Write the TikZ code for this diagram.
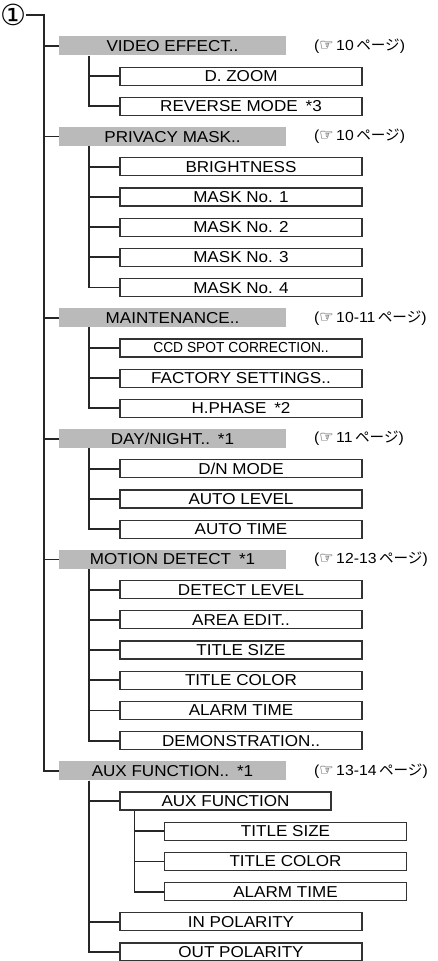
\documentclass[tikz,border=0pt]{standalone}
\usepackage{fontspec}
\setmainfont{Liberation Sans}[FakeStretch=1.08]
\newfontfamily\symfont{DejaVu Sans}
\newfontfamily\jpfont{Noto Sans CJK JP}
\newcommand{\menufont}{\fontsize{15.8}{16}\selectfont}
\newcommand{\seepage}[1]{({\symfont\fontsize{16}{16}\selectfont ☞}\,#1\kern2.5pt{\jpfont ページ})}

\begin{document}
\begin{tikzpicture}[x=1pt, y=-30.2pt,
    head/.style={fill=black!27, minimum width=227pt, minimum height=19pt, inner sep=0pt, font=\menufont},
    item/.style={draw=black!80, line width=1.1pt, fill=white, minimum width=242pt, minimum height=18pt, inner sep=0pt, font=\menufont},
    link/.style={line width=1.8pt, black!85},
    pg/.style={anchor=west, inner sep=0pt, font=\fontsize{14.6}{15}\selectfont}]
    \useasboundingbox (0,-1.523) rectangle (437,30.298);

    % Start of the tree
    \node[font=\symfont\fontsize{29}{29}\selectfont, inner sep=0pt] (start) at (13,-1.026) {①};
    \coordinate (trunk) at (44,-1.026);

    % Menu headers (gray)
    \node[head] (video) at (172.5,0) {VIDEO EFFECT..};
    \node[head] (privacy) at (172.5,3) {PRIVACY MASK..};
    \node[head] (maint) at (172.5,9) {MAINTENANCE..};
    \node[head] (daynight) at (172.5,13) {DAY/NIGHT..\enspace*1};
    \node[head] (motion) at (172.5,17) {MOTION DETECT\enspace*1};
    \node[head] (aux) at (172.5,24) {AUX FUNCTION..\enspace*1};

    % Page references
    \node[pg] (pvideo) at (314,0) {\seepage{10}};
    \node[pg] (pprivacy) at (314,3) {\seepage{10}};
    \node[pg] (pmaint) at (314,9) {\seepage{10-11}};
    \node[pg] (pdaynight) at (314,13) {\seepage{11}};
    \node[pg] (pmotion) at (314,17) {\seepage{12-13}};
    \node[pg] (paux) at (314,24) {\seepage{13-14}};

    % Items
    \node[item] (zoom) at (241,1) {D. ZOOM};
    \node[item] (reverse) at (241,2) {REVERSE MODE\enspace*3};
    \node[item] (bright) at (241,4) {BRIGHTNESS};
    \node[item] (maskA) at (241,5) {MASK No. 1};
    \node[item] (maskB) at (241,6) {MASK No. 2};
    \node[item] (maskC) at (241,7) {MASK No. 3};
    \node[item] (maskD) at (241,8) {MASK No. 4};
    \node[item, font=\fontsize{14.5}{15}\selectfont] (ccd) at (241,10) {\scalebox{0.88}[1]{CCD SPOT CORRECTION..}};
    \node[item] (factory) at (241,11) {FACTORY SETTINGS..};
    \node[item] (hphase) at (241,12) {H.PHASE\enspace*2};
    \node[item] (dnmode) at (241,14) {D/N MODE};
    \node[item] (autolevel) at (241,15) {AUTO LEVEL};
    \node[item] (autotime) at (241,16) {AUTO TIME};
    \node[item] (detect) at (241,18) {DETECT LEVEL};
    \node[item] (area) at (241,19) {AREA EDIT..};
    \node[item] (tsize) at (241,20) {TITLE SIZE};
    \node[item] (tcolor) at (241,21) {TITLE COLOR};
    \node[item] (alarm) at (241,22) {ALARM TIME};
    \node[item] (demo) at (241,23) {DEMONSTRATION..};
    \node[item, minimum width=211pt] (auxf) at (225.5,25) {AUX FUNCTION};
    \node[item] (asize) at (285.5,26) {TITLE SIZE};
    \node[item] (acolor) at (285.5,27) {TITLE COLOR};
    \node[item] (atime) at (285.5,28) {ALARM TIME};
    \node[item] (inpol) at (241,29) {IN POLARITY};
    \node[item] (outpol) at (241,30) {OUT POLARITY};

    % Trunk
    \draw[link] (start.east) -- (trunk) |- (aux.west);
    \foreach \h in {video,privacy,maint,daynight,motion}
        \draw[link] (trunk |- \h.west) -- (\h.west);

    % Branches
    \coordinate (videostem) at ([xshift=30pt]video.south west);
    \coordinate (privacystem) at ([xshift=30pt]privacy.south west);
    \coordinate (maintstem) at ([xshift=30pt]maint.south west);
    \coordinate (daynightstem) at ([xshift=30pt]daynight.south west);
    \coordinate (motionstem) at ([xshift=30pt]motion.south west);
    \coordinate (auxstem) at ([xshift=30pt]aux.south west);
    \coordinate (auxfstem) at ([xshift=15pt]auxf.south west);

    \foreach \n in {zoom,reverse}
        \draw[link] (videostem) |- (\n.west);
    \foreach \n in {bright,maskA,maskB,maskC,maskD}
        \draw[link] (privacystem) |- (\n.west);
    \foreach \n in {ccd,factory,hphase}
        \draw[link] (maintstem) |- (\n.west);
    \foreach \n in {dnmode,autolevel,autotime}
        \draw[link] (daynightstem) |- (\n.west);
    \foreach \n in {detect,area,tsize,tcolor,alarm,demo}
        \draw[link] (motionstem) |- (\n.west);
    \foreach \n in {auxf,inpol,outpol}
        \draw[link] (auxstem) |- (\n.west);
    \foreach \n in {asize,acolor,atime}
        \draw[link] (auxfstem) |- (\n.west);
\end{tikzpicture}
\end{document}
